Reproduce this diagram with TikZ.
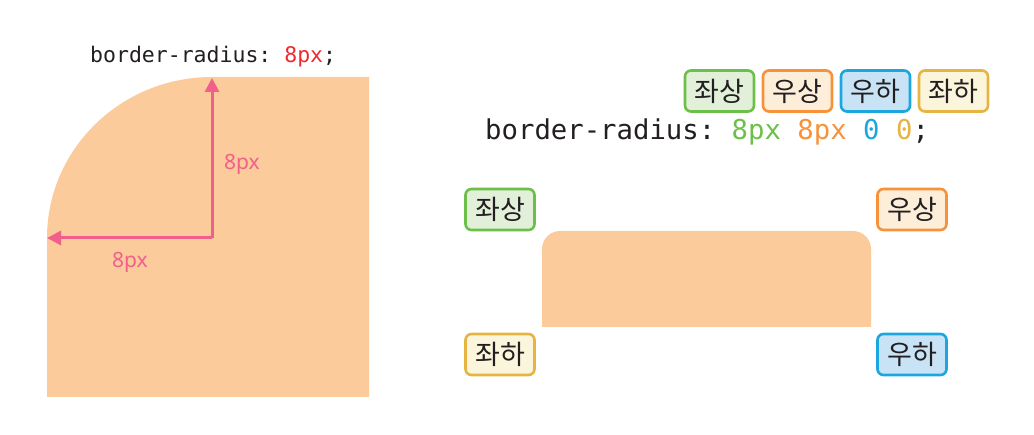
\documentclass[tikz,border=0pt]{standalone}
\usepackage{fontspec}
\setmainfont{Noto Sans}
\setmonofont{DejaVu Sans Mono}
\newfontfamily\kr{Noto Sans CJK KR}
\usetikzlibrary{arrows.meta}
\definecolor{peach}{HTML}{FBCB9C}
\definecolor{pinkar}{HTML}{F0608A}
\definecolor{redc}{HTML}{EE2A2E}
\definecolor{gB}{HTML}{6CC04A}\definecolor{gF}{HTML}{E2EFD9}
\definecolor{oB}{HTML}{F7923A}\definecolor{oF}{HTML}{FDEEDA}
\definecolor{bB}{HTML}{1BA6E0}\definecolor{bF}{HTML}{C8E3F5}
\definecolor{yB}{HTML}{E5B443}\definecolor{yF}{HTML}{FBF5DC}
\definecolor{txt}{HTML}{231F20}
\tikzset{
  badge/.style={draw=#1B, fill=#1F, line width=2.6pt, rounded corners=6pt,
    minimum width=69pt, minimum height=41pt, inner sep=0pt,
    font=\kr\fontsize{27}{29}\selectfont, text=txt},
  lbl/.style={text=pinkar, font=\fontsize{21}{24}\selectfont, anchor=base west, inner sep=0pt},
  arr/.style={draw=pinkar, line width=3pt, -{Triangle[length=14pt,width=14pt]}}
}
\begin{document}
\begin{tikzpicture}[x=1pt,y=-1pt]
\useasboundingbox (0,0) rectangle (1034,435);
% left shape
\fill[peach] (47,397) -- (47,238) arc[start angle=180,end angle=270,x radius=165,y radius=161] -- (369,77) -- (369,397) -- cycle;
\coordinate (c) at (212,238);
\coordinate (ct) at (212,78);
\coordinate (cl) at (47,238);
\draw[arr] (c) -- (ct);
\draw[arr] (c) -- (cl);
\node[lbl] (lv) at (224,170) {8px};
\node[lbl] (lh) at (112,268) {8px};
\node[anchor=base west, inner sep=0pt, font=\ttfamily\fontsize{21.5}{24}\selectfont, text=txt] (code1) at (90,63) {border-radius: \textcolor{redc}{8px};};
% right
\node[badge=g] (t1) at (719.5,91) {좌상};
\node[badge=o] (t2) at (797.5,91) {우상};
\node[badge=b] (t3) at (875.5,91) {우하};
\node[badge=y] (t4) at (953.5,91) {좌하};
\node[anchor=base west, inner sep=0pt, font=\ttfamily\fontsize{27.3}{30}\selectfont, text=txt] (code2) at (485,140) {border-radius: \textcolor{gB}{8px} \textcolor{oB}{8px} \textcolor{bB}{0} \textcolor{yB}{0};};
\fill[peach, rounded corners=18pt] (542,327) -- (542,231) -- (871,231) [sharp corners] -- (871,327) -- cycle;
\node[badge=g] (lt) at (500,209.5) {좌상};
\node[badge=o] (rt) at (912,209.5) {우상};
\node[badge=y] (lb) at (500,354.5) {좌하};
\node[badge=b] (rb) at (912,354.5) {우하};
\end{tikzpicture}
\end{document}
